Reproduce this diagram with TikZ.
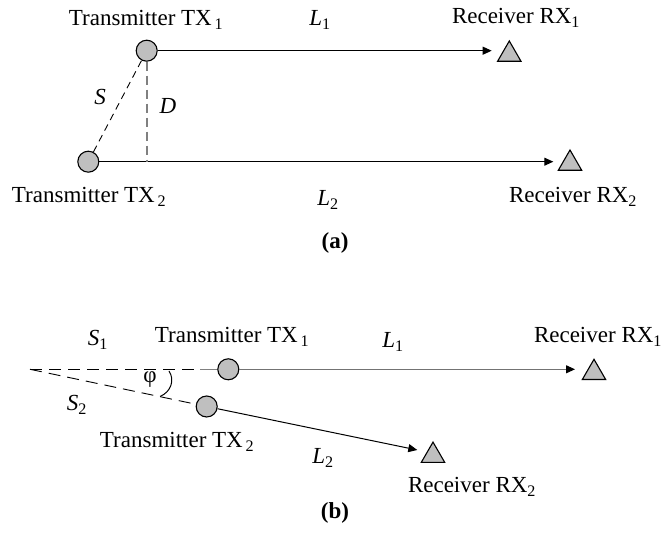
\documentclass[tikz,border=0pt]{standalone}
\usepackage{fontspec}
\setmainfont{Liberation Serif}
\usetikzlibrary{shapes.geometric,arrows.meta}
\begin{document}
\begin{tikzpicture}[x=1pt,y=1pt,
  every node/.style={font=\fontsize{23}{27}\selectfont, inner sep=0pt},
  txc/.style={circle, draw=black, fill=black!25, line width=1.1pt, minimum size=21pt, inner sep=0pt},
  rxt/.style={regular polygon, regular polygon sides=3, draw=black, fill=black!25, line width=1.1pt, minimum size=27pt, inner sep=0pt},
  sig/.style={line width=1pt, -{Triangle[length=9pt,width=8pt]}},
  dsh/.style={line width=0.9pt, dash pattern=on 7pt off 5pt},
  dshb/.style={line width=0.9pt, dash pattern=on 12pt off 7pt}
]
\useasboundingbox (0,0) rectangle (662,538);

% ---------- (a) ----------
\node[txc] (a1) at (146.7,487.3) {};
\node[txc] (a2) at (88.3,376.3) {};
\node[rxt] (ra1) at (509.3,483.5) {};
\node[rxt] (ra2) at (570,374.5) {};
\coordinate (ta1) at (491.7,487.3);
\coordinate (ta2) at (553.3,376.3);
\coordinate (dfoot) at (146.7,376.3);

\draw[sig] (a1) -- (ta1);
\draw[sig] (a2) -- (ta2);
\draw[dsh] (a2) -- (a1);
\draw[line width=1.6pt, black!50, dash pattern=on 9pt off 5pt] (a1.south) -- (dfoot);

\node (la1) at (146,518) {Transmitter TX\textsubscript{\,1}};
\node (lL1) at (320,518) {\textit{L}\textsubscript{1}};
\node (lr1) at (516,520) {Receiver RX\textsubscript{1}};
\node (lS) at (100,441) {\textit{S}};
\node (lD) at (168,432) {\textit{D}};
\node (la2) at (89,341) {Transmitter TX\textsubscript{\,2}};
\node (lL2) at (328,338) {\textit{L}\textsubscript{2}};
\node (lr2) at (573,341) {Receiver RX\textsubscript{2}};
\node (capa) at (335,295) {\textbf{(a)}};

% ---------- (b) ----------
\coordinate (apex) at (30,168.7);
\node[txc] (b1) at (228.3,168.7) {};
\node[txc] (b2) at (206.7,131.5) {};
\node[rxt] (rb1) at (594,165.2) {};
\node[rxt] (rb2) at (433,82.4) {};
\coordinate (tb1) at (575,168.7);
\coordinate (tb2) at (417.3,88);
\coordinate (gstart) at (196,168.7);
\coordinate (arcA) at (169,167);
\coordinate (arcB) at (160,141.5);

\draw[sig, black!55, -{Triangle[length=9pt,width=8pt,fill=black,color=black]}] (b1) -- (tb1);
\draw[sig] (b2) -- (tb2);
\draw[dshb] (apex) -- (gstart);
\draw[line width=0.9pt, black!50] (gstart) ++(4,0) -- (b1.west);
\draw[dshb] (apex) -- (b2);
\draw[line width=1pt] (arcA) .. controls (175,158) and (171,146) .. (arcB);

\node (lS1) at (98,198) {\textit{S}\textsubscript{1}};
\node (lb1) at (232,201) {Transmitter TX\textsubscript{\,1}};
\node (lL1b) at (393,196) {\textit{L}\textsubscript{1}};
\node (lrb1) at (598,201) {Receiver RX\textsubscript{1}};
\node (lphi) at (150,158) {φ};
\node (lS2) at (77,133) {\textit{S}\textsubscript{2}};
\node (lb2) at (177,96) {Transmitter TX\textsubscript{\,2}};
\node (lL2b) at (323,80) {\textit{L}\textsubscript{2}};
\node (lrb2) at (472,51) {Receiver RX\textsubscript{2}};
\node (capb) at (335,25) {\textbf{(b)}};
\end{tikzpicture}
\end{document}
